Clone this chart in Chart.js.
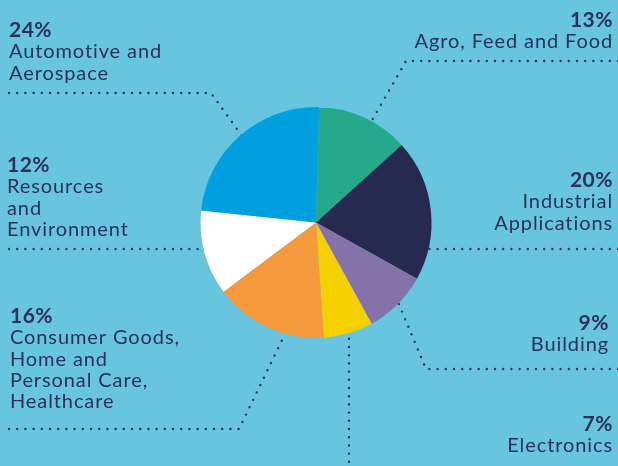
<!DOCTYPE html>
<html lang="en">
<head>
  <meta charset="UTF-8">
  <title>Sectors</title>
  <script src="https://cdn.jsdelivr.net/npm/chart.js"></script>
  <style>
    html, body {
      margin: 0;
      padding: 0;
      background-color: #67c5e0;
    }
    #chart-container {
      width: 618px;
      height: 466px;
    }
  </style>
</head>
<body>

  <div id="chart-container">
    <canvas id="pieChart"></canvas>
  </div>

  <script>
    // sectors, clockwise from the top
    const sectors = ['Agro, Feed and Food', 'Industrial Applications', 'Building', 'Electronics',
                     'Consumer Goods, Home and Personal Care, Healthcare', 'Resources and Environment',
                     'Automotive and Aerospace'];
    const shares = [13, 20, 9, 7, 16, 12, 24];
    const sliceColors = ['#24a98a', '#262a4f', '#8672aa', '#f5d000', '#f49a3c', '#ffffff', '#009fe0'];

    const ink = '#2b3159';

    // label text lines and where they sit (layout only)
    const labels = [
      { lines: ['Agro, Feed and Food'], x: 613, y: 27, align: 'right',
        leader: [[618, 61], [406, 61], [371, 122]] },
      { lines: ['Industrial', 'Applications'], x: 613, y: 187, align: 'right',
        leader: [[618, 249], [433, 249], [426, 249]] },
      { lines: ['Building'], x: 609, y: 330, align: 'right',
        leader: [[618, 369], [426, 369], [398, 302]] },
      { lines: ['Electronics'], x: 613, y: 431, align: 'right',
        leader: [[349, 470], [349, 330]] },
      { lines: ['Consumer Goods,', 'Home and', 'Personal Care,', 'Healthcare'], x: 10, y: 323, align: 'left',
        leader: [[9, 429], [239, 429], [284, 336]] },
      { lines: ['Resources', 'and', 'Environment'], x: 7, y: 172, align: 'left',
        leader: [[9, 249], [202, 249]] },
      { lines: ['Automotive and', 'Aerospace'], x: 9, y: 37, align: 'left',
        leader: [[9, 93], [211, 93], [242, 136]] }
    ];

    const leaderPlugin = {
      id: 'leaders',
      beforeDatasetsDraw(chart) {
        const ctx = chart.ctx;
        ctx.save();
        ctx.strokeStyle = ink;
        ctx.lineWidth = 2.4;
        ctx.lineCap = 'round';
        ctx.setLineDash([0, 8.2]);
        labels.forEach(l => {
          ctx.beginPath();
          l.leader.forEach((p, i) => i ? ctx.lineTo(p[0], p[1]) : ctx.moveTo(p[0], p[1]));
          ctx.stroke();
        });
        ctx.restore();
      },
      afterDraw(chart) {
        const ctx = chart.ctx;
        ctx.save();
        ctx.fillStyle = ink;
        ctx.textBaseline = 'alphabetic';
        labels.forEach((l, i) => {
          ctx.textAlign = l.align;
          ctx.letterSpacing = '0.5px';
          ctx.font = 'bold 21px Lato';
          ctx.fillText(shares[i] + '%', l.x, l.y);
          ctx.letterSpacing = '0.9px';
          ctx.font = '20px Lato';
          l.lines.forEach((t, j) => ctx.fillText(t, l.x, l.y + 21.3 * (j + 1)));
        });
        ctx.restore();
      }
    };

    const ctx = document.getElementById('pieChart').getContext('2d');
    new Chart(ctx, {
      type: 'pie',
      data: {
        labels: sectors,
        datasets: [{
          data: shares,
          backgroundColor: sliceColors,
          borderWidth: 0
        }]
      },
      options: {
        responsive: true,
        maintainAspectRatio: false,
        animation: false,
        rotation: 1.5,
        layout: {
          padding: { left: 200.5, right: 186.5, top: 107, bottom: 128 }
        },
        plugins: {
          legend: { display: false },
          tooltip: { enabled: false }
        }
      },
      plugins: [leaderPlugin]
    });
  </script>

</body>
</html>
